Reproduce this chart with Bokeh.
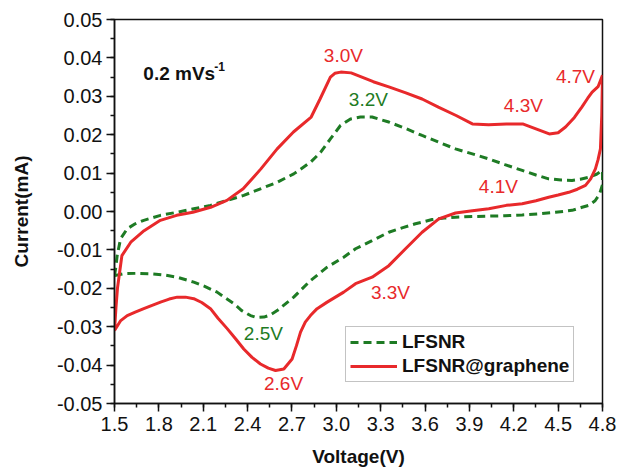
from bokeh.plotting import figure
from bokeh.models import (Range1d, SingleIntervalTicker, NumeralTickFormatter,
                          Legend, LegendItem, ColumnDataSource)
from bokeh.core.properties import value
from bokeh.embed import file_html
from bokeh.resources import INLINE

# ---------------- data ----------------
# LFSNR@graphene: anodic sweep (1.5 -> 4.8 V)
red_up_v = [1.50, 1.51, 1.52, 1.55, 1.61, 1.70, 1.81, 1.92, 2.03, 2.15, 2.26, 2.37, 2.49,
            2.60, 2.71, 2.83, 2.89, 2.96, 2.99, 3.03, 3.10, 3.16, 3.25, 3.36, 3.47, 3.58, 3.69,
            3.81, 3.92, 4.03, 4.15, 4.26, 4.35, 4.44, 4.50, 4.55, 4.61, 4.66, 4.70, 4.73,
            4.77, 4.80]
red_up_i = [-0.0310, -0.0250, -0.0200, -0.0115, -0.0080, -0.0050, -0.0023, -0.0010, -0.0002,
            0.0011, 0.0029, 0.0059, 0.0111, 0.0163, 0.0207, 0.0246, 0.0293, 0.0350, 0.0360,
            0.0363, 0.0361, 0.0352, 0.0338, 0.0324, 0.0309, 0.0293, 0.0272, 0.0250, 0.0228,
            0.0226, 0.0228, 0.0228, 0.0215, 0.0202, 0.0205, 0.0220, 0.0245, 0.0272, 0.0295,
            0.0311, 0.0325, 0.0355]
# LFSNR@graphene: cathodic sweep (4.8 -> 1.5 V)
red_dn_v = [4.80, 4.795, 4.786, 4.77, 4.752, 4.72, 4.685, 4.63, 4.572, 4.50, 4.436, 4.35,
            4.257, 4.15, 4.031, 3.92, 3.806, 3.693, 3.58, 3.468, 3.355, 3.242, 3.13, 3.05,
            2.938, 2.87, 2.825, 2.79, 2.758, 2.73, 2.701, 2.645, 2.589, 2.54, 2.487, 2.43,
            2.374, 2.32, 2.262, 2.20, 2.149, 2.09, 2.036, 1.98, 1.924, 1.87, 1.811, 1.75,
            1.698, 1.64, 1.586, 1.54, 1.50]
red_dn_i = [0.0355, 0.0250, 0.0163, 0.0135, 0.0111, 0.0085, 0.0068, 0.0058, 0.0050, 0.0043,
            0.0037, 0.0028, 0.0020, 0.0016, 0.0007, 0.0002, -0.0004, -0.0019, -0.0054,
            -0.0097, -0.0141, -0.0171, -0.0188, -0.0210, -0.0236, -0.0253, -0.0271, -0.0288,
            -0.0314, -0.0350, -0.0384, -0.0410, -0.0414, -0.0408, -0.0397, -0.0380, -0.0358,
            -0.0332, -0.0305, -0.0278, -0.0253, -0.0237, -0.0227, -0.0223, -0.0223, -0.0228,
            -0.0236, -0.0245, -0.0253, -0.0262, -0.0271, -0.0285, -0.0310]

# LFSNR: anodic sweep
green_up_v = [1.50, 1.507, 1.518, 1.541, 1.586, 1.64, 1.698, 1.811, 1.924, 2.036, 2.149,
              2.262, 2.374, 2.487, 2.600, 2.712, 2.825, 2.893, 2.960, 3.028, 3.096, 3.163,
              3.242, 3.355, 3.47, 3.58, 3.69, 3.806, 3.92, 4.031, 4.14, 4.257, 4.35, 4.436,
              4.52, 4.594, 4.65, 4.707, 4.76, 4.80]
green_up_i = [-0.0167, -0.0150, -0.0115, -0.0071, -0.0045, -0.0032, -0.0023, -0.0010,
              -0.0002, 0.0007, 0.0016, 0.0029, 0.0042, 0.0059, 0.0076, 0.0098, 0.0128,
              0.0154, 0.0189, 0.0224, 0.0241, 0.0246, 0.0246, 0.0233, 0.0216, 0.0198,
              0.0181, 0.0163, 0.0150, 0.0137, 0.0122, 0.0107, 0.0095, 0.0085, 0.0082,
              0.0081, 0.0084, 0.0089, 0.0097, 0.0107]
# LFSNR: cathodic sweep
green_dn_v = [4.80, 4.80, 4.78, 4.75, 4.707, 4.662, 4.594, 4.482, 4.37, 4.257, 4.14, 4.031,
              3.92, 3.806, 3.73, 3.648, 3.535, 3.45, 3.355, 3.242, 3.13, 3.05, 2.938, 2.825,
              2.712, 2.600, 2.55, 2.510, 2.46, 2.420, 2.36, 2.307, 2.25, 2.194, 2.11, 2.036,
              1.924, 1.83, 1.743, 1.653, 1.563, 1.50]
green_dn_i = [0.0107, 0.0070, 0.0045, 0.0028, 0.0016, 0.0011, 0.0003, -0.0002, -0.0006,
              -0.0009, -0.0011, -0.0012, -0.0013, -0.0015, -0.0017, -0.0021, -0.0032,
              -0.0042, -0.0054, -0.0076, -0.0097, -0.0119, -0.0145, -0.0180, -0.0223,
              -0.0258, -0.0270, -0.0275, -0.0276, -0.0271, -0.0258, -0.0240, -0.0225,
              -0.0210, -0.0195, -0.0184, -0.0171, -0.0165, -0.0162, -0.0161, -0.0162, -0.0167]

# peak annotations
peak_text = ["3.0V", "3.2V", "4.3V", "4.7V", "4.1V", "3.3V", "2.5V", "2.6V"]
peak_series = ["red", "green", "red", "red", "red", "red", "green", "red"]
peak_x = [3.048, 3.217, 4.265, 4.617, 4.096, 3.366, 2.507, 2.643]
peak_y = [0.0406, 0.0292, 0.0276, 0.0352, 0.0065, -0.0211, -0.0318, -0.0448]

series_names = ["LFSNR", "LFSNR@graphene"]
scan_rate = "0.2 mVs"
x_label = "Voltage(V)"
y_label = "Current(mA)"

# ---------------- style ----------------
RED = "#e8292b"
GREEN = "#1e7b24"
FONT = "Liberation Sans"
TXT = "#111111"

p = figure(width=617, height=471, output_backend="svg", toolbar_location=None,
           x_range=Range1d(1.5, 4.8), y_range=Range1d(-0.05, 0.05),
           min_border_left=114, min_border_right=15, min_border_top=19,
           min_border_bottom=68)
p.xgrid.visible = False
p.ygrid.visible = False
p.outline_line_color = "#111111"
p.outline_line_width = 1.5
p.background_fill_color = "white"
p.border_fill_color = "white"

green_v = green_up_v + green_dn_v
green_i = green_up_i + green_dn_i
red_v = red_up_v + red_dn_v
red_i = red_up_i + red_dn_i

g = p.line(green_v, green_i, line_color=GREEN, line_width=3, line_dash="8 5")
r = p.line(red_v, red_i, line_color=RED, line_width=3)

# peak labels
cols = [RED if s == "red" else GREEN for s in peak_series]
src = ColumnDataSource(dict(x=peak_x, y=peak_y, t=peak_text, c=cols))
p.text("x", "y", text="t", source=src, text_color="c", text_align="center",
       text_baseline="middle", text_font=value(FONT), text_font_size="19px")

# scan rate label
p.text([1.695], [0.0359], text=[scan_rate], text_font=value(FONT), text_font_style="bold",
       text_font_size="19px", text_color=TXT, text_baseline="alphabetic")
p.text([2.175], [0.0378], text=["-1"], text_font=value(FONT), text_font_style="bold",
       text_font_size="12px", text_color=TXT, text_baseline="alphabetic")

# axes
p.xaxis.ticker = SingleIntervalTicker(interval=0.3, num_minor_ticks=2)
p.yaxis.ticker = SingleIntervalTicker(interval=0.01, num_minor_ticks=2)
p.xaxis.formatter = NumeralTickFormatter(format="0.0")
p.yaxis.formatter = NumeralTickFormatter(format="0.00")
for ax in (p.xaxis, p.yaxis):
    ax.axis_line_width = 1.5
    ax.axis_line_color = "#111111"
    ax.major_tick_line_width = 1.5
    ax.minor_tick_line_width = 1.5
    ax.major_tick_line_color = "#111111"
    ax.minor_tick_line_color = "#111111"
    ax.major_tick_in = 0
    ax.major_tick_out = 8
    ax.minor_tick_in = 0
    ax.minor_tick_out = 4
    ax.major_label_text_font = FONT
    ax.major_label_text_font_size = "20px"
    ax.major_label_text_color = TXT
    ax.axis_label_text_font = FONT
    ax.axis_label_text_font_size = "19px"
    ax.axis_label_text_font_style = "bold"
    ax.axis_label_text_color = TXT
p.xaxis.axis_label = x_label
p.yaxis.axis_label = y_label
p.xaxis.major_label_standoff = 5
p.yaxis.major_label_standoff = 4
p.xaxis.axis_label_standoff = 12
p.yaxis.axis_label_standoff = 22

legend = Legend(items=[LegendItem(label=series_names[0], renderers=[g]),
                       LegendItem(label=series_names[1], renderers=[r])],
                location=(231, 21), padding=4, spacing=2, margin=0,
                glyph_width=47, glyph_height=22, label_height=22, label_standoff=5,
                label_text_font=FONT, label_text_font_size="19px",
                label_text_font_style="bold", label_text_color=TXT,
                border_line_color="#888888", border_line_width=1,
                background_fill_color="white", background_fill_alpha=1)
p.add_layout(legend, "center")

open("out.html", "w").write(file_html(p, INLINE))
